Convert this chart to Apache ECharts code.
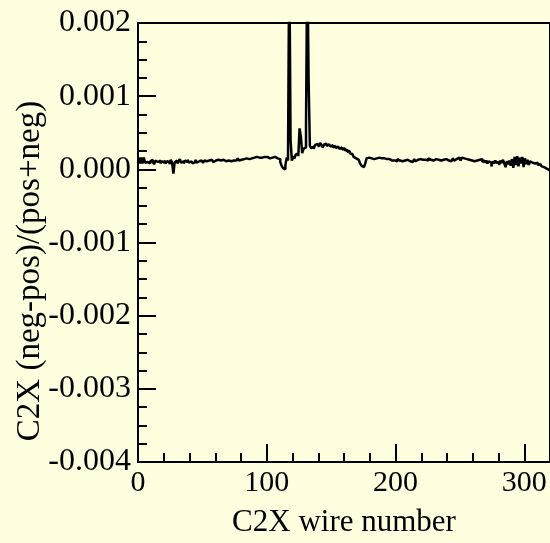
<!DOCTYPE html>
<html>
<head>
<meta charset="utf-8">
<script src="https://cdn.jsdelivr.net/npm/echarts@6/dist/echarts.min.js"></script>
<style>
html,body{margin:0;padding:0;background:#ffffe0;}
#chart{width:550px;height:543px;}
</style>
</head>
<body>
<div id="chart"></div>
<script>
// Wire numbers 0..320 and asymmetry values
const wireStart = 0;
const asymmetry = [
  8e-5,16e-5,8e-5,16e-5,8e-5,16e-5,9e-5,10e-5,12e-5,8e-5,
  11e-5,13e-5,10e-5,7e-5,12e-5,10e-5,9e-5,12e-5,8e-5,11e-5,
  9e-5,12e-5,8e-5,11e-5,10e-5,7e-5,13e-5,9e-5,-6e-5,10e-5,
  12e-5,8e-5,11e-5,14e-5,9e-5,11e-5,8e-5,12e-5,10e-5,13e-5,
  9e-5,11e-5,12e-5,8e-5,10e-5,13e-5,9e-5,11e-5,10e-5,12e-5,
  10e-5,9e-5,12e-5,11e-5,9e-5,12e-5,10e-5,13e-5,11e-5,10e-5,
  12e-5,10e-5,13e-5,11e-5,12e-5,10e-5,13e-5,12e-5,11e-5,13e-5,
  12e-5,14e-5,11e-5,13e-5,12e-5,14e-5,12e-5,13e-5,15e-5,12e-5,
  13e-5,15e-5,14e-5,12e-5,15e-5,17e-5,14e-5,16e-5,15e-5,17e-5,
  16e-5,14e-5,17e-5,15e-5,16e-5,18e-5,16e-5,15e-5,17e-5,16e-5,
  17e-5,16e-5,15e-5,17e-5,16e-5,18e-5,17e-5,16e-5,15e-5,17e-5,
  14e-5,10e-5,5e-5,2e-5,0,6e-5,16e-5,12e-5,300e-5,40e-5,
  12e-5,18e-5,15e-5,20e-5,22e-5,18e-5,56e-5,45e-5,22e-5,28e-5,
  30e-5,62e-5,300e-5,122e-5,32e-5,29e-5,31e-5,28e-5,33e-5,35e-5,
  34e-5,31e-5,36e-5,33e-5,30e-5,34e-5,35e-5,32e-5,34e-5,33e-5,
  31e-5,33e-5,30e-5,32e-5,29e-5,31e-5,30e-5,28e-5,30e-5,27e-5,
  29e-5,26e-5,27e-5,24e-5,25e-5,22e-5,21e-5,19e-5,17e-5,15e-5,
  15e-5,13e-5,11e-5,8e-5,5e-5,3e-5,2e-5,8e-5,15e-5,16e-5,
  16e-5,15e-5,17e-5,14e-5,16e-5,15e-5,13e-5,16e-5,14e-5,15e-5,
  14e-5,15e-5,13e-5,14e-5,12e-5,14e-5,13e-5,12e-5,14e-5,12e-5,
  13e-5,11e-5,14e-5,12e-5,13e-5,11e-5,13e-5,12e-5,10e-5,13e-5,
  12e-5,11e-5,13e-5,10e-5,12e-5,14e-5,11e-5,13e-5,12e-5,14e-5,
  12e-5,13e-5,15e-5,13e-5,14e-5,12e-5,15e-5,13e-5,14e-5,12e-5,
  13e-5,14e-5,12e-5,13e-5,15e-5,12e-5,14e-5,13e-5,11e-5,14e-5,
  13e-5,12e-5,14e-5,11e-5,13e-5,15e-5,12e-5,14e-5,13e-5,16e-5,
  14e-5,12e-5,16e-5,15e-5,17e-5,14e-5,16e-5,13e-5,15e-5,12e-5,
  14e-5,11e-5,13e-5,12e-5,10e-5,13e-5,11e-5,14e-5,10e-5,12e-5,
  9e-5,12e-5,8e-5,11e-5,9e-5,4e-5,11e-5,8e-5,12e-5,9e-5,
  10e-5,6e-5,12e-5,9e-5,13e-5,8e-5,3e-5,11e-5,7e-5,12e-5,
  5e-5,14e-5,2e-5,17e-5,6e-5,18e-5,4e-5,16e-5,8e-5,17e-5,
  3e-5,15e-5,7e-5,13e-5,6e-5,11e-5,9e-5,10e-5,8e-5,7e-5,
  9e-5,6e-5,7e-5,5e-5,4e-5,3e-5,2e-5,1e-5,0,-1e-5,
  0
];
const xTicks = [0, 100, 200, 300];
const yTicks = [-0.004, -0.003, -0.002, -0.001, 0.000, 0.001, 0.002];
const xTitle = 'C2X wire number';
const yTitle = 'C2X (neg-pos)/(pos+neg)';

const seriesData = asymmetry.map((v, i) => [wireStart + i, v]);
const font = 'Liberation Serif, Times New Roman, serif';

const chart = echarts.init(document.getElementById('chart'), null, {renderer: 'canvas'});
chart.setOption({
  backgroundColor: '#ffffe0',
  animation: false,
  grid: {
    left: 138, top: 23, width: 416, height: 445,
    show: true, borderColor: '#000', borderWidth: 2, backgroundColor: 'transparent'
  },
  xAxis: {
    type: 'value', min: 0, max: 320, interval: 100,
    name: xTitle, nameLocation: 'middle', nameGap: 45,
    nameTextStyle: {fontFamily: font, fontSize: 31, color: '#000'},
    axisLine: {show: true, onZero: false, lineStyle: {color: '#000', width: 2}},
    axisTick: {show: true, inside: true, length: 18, lineStyle: {color: '#000', width: 2}},
    minorTick: {show: true, splitNumber: 5, length: 9, lineStyle: {color: '#000', width: 2}},
    axisLabel: {fontFamily: font, fontSize: 30, color: '#000', margin: 6, showMaxLabel: false,
      formatter: v => xTicks.includes(v) ? String(v) : ''},
    splitLine: {show: false}
  },
  yAxis: {
    type: 'value', min: yTicks[0], max: yTicks[yTicks.length - 1], interval: 0.001,
    axisLine: {show: true, onZero: false, lineStyle: {color: '#000', width: 2}},
    axisTick: {show: true, inside: true, length: 18, lineStyle: {color: '#000', width: 2}},
    minorTick: {show: true, splitNumber: 4, length: 9, lineStyle: {color: '#000', width: 2}},
    axisLabel: {fontFamily: font, fontSize: 32, color: '#000', margin: 7,
      formatter: v => v.toFixed(3)},
    splitLine: {show: false}
  },
  graphic: [{
    type: 'text', x: 30, y: 271, rotation: Math.PI / 2,
    style: {text: yTitle, font: '33px ' + font, fill: '#000', textAlign: 'center', textVerticalAlign: 'middle'}
  }],
  series: [{
    type: 'line', step: 'middle', data: seriesData, symbol: 'none', clip: true,
    lineStyle: {color: '#000', width: 2.5}
  }]
});
</script>
</body>
</html>
